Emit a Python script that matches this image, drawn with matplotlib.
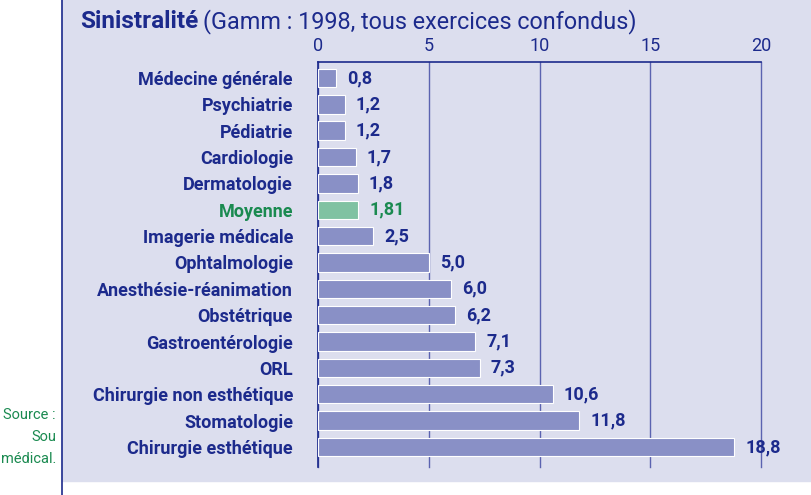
import matplotlib
matplotlib.use("Agg")
from matplotlib import pyplot as plt
from matplotlib.patches import Rectangle
from matplotlib.lines import Line2D
import numpy as np

# donnees
categories = ["Médecine générale", "Psychiatrie", "Pédiatrie", "Cardiologie",
              "Dermatologie", "Moyenne", "Imagerie médicale", "Ophtalmologie",
              "Anesthésie-réanimation", "Obstétrique", "Gastroentérologie", "ORL",
              "Chirurgie non esthétique", "Stomatologie", "Chirurgie esthétique"]
values = [0.8, 1.2, 1.2, 1.7, 1.8, 1.81, 2.5, 5.0, 6.0, 6.2, 7.1, 7.3, 10.6, 11.8, 18.8]
value_labels = ["0,8", "1,2", "1,2", "1,7", "1,8", "1,81", "2,5", "5,0", "6,0",
                "6,2", "7,1", "7,3", "10,6", "11,8", "18,8"]
xticks = [0, 5, 10, 15, 20]

navy = "#1c2a8c"
green = "#1a8a50"
bar_col = "#8990c6"
bar_green = "#80c2a2"
bg = "#dcdeee"
grid_col = "#5b63b0"

plt.rcParams['font.family'] = ['Roboto', 'DejaVu Sans']

W, H = 812, 495
fig = plt.figure(figsize=(W / 100, H / 100), dpi=100)

# fond lavande
fig.patches.append(Rectangle((62 / W, 1 - 481 / H), 1 - 62 / W, 481 / H,
                             transform=fig.transFigure, color=bg, zorder=-5))
fig.lines.append(Line2D([62 / W, 62 / W], [0, 1], transform=fig.transFigure,
                        color=navy, lw=1.2))

ax = fig.add_axes([318 / W, 1 - 467 / H, (761 - 318) / W, (467 - 62) / H])
ax.set_zorder(3)
ax.set_facecolor("none")

y = np.arange(len(categories))
colors = [bar_green if c == "Moyenne" else bar_col for c in categories]
ax.barh(y, values, height=0.7, color=colors, edgecolor="white", linewidth=0.8, zorder=3)

for i, (v, lab) in enumerate(zip(values, value_labels)):
    c = green if categories[i] == "Moyenne" else navy
    ax.text(v + 0.5, i, lab, va="center", ha="left", fontsize=13,
            fontweight="bold", color=c, zorder=4)

ax.set_xlim(0, 20)
ax.set_ylim(14.76, -0.607)
ax.set_xticks(xticks)
ax.xaxis.tick_top()
ax.tick_params(axis="x", length=0, pad=5, labelsize=13, labelcolor=navy)
ax.grid(axis="x", color=grid_col, lw=1.0, zorder=5)
for gl in ax.get_xgridlines():
    gl.set_clip_on(False)

ax.set_yticks(y)
ax.set_yticklabels(categories, fontsize=13, fontweight="bold")
ax.tick_params(axis="y", length=0, pad=18)
for t, c in zip(ax.get_yticklabels(), categories):
    t.set_color(green if c == "Moyenne" else navy)

for s in ["right", "bottom"]:
    ax.spines[s].set_visible(False)
ax.spines["left"].set_color(navy)
ax.spines["top"].set_color(navy)
ax.spines["left"].set_linewidth(1.2)
ax.spines["top"].set_linewidth(1.2)

# titre
t1 = fig.text(80 / W, 1 - 28 / H, "Sinistralité", fontsize=17.5, fontweight="bold",
              color=navy, va="baseline")
fig.canvas.draw()
bb = t1.get_window_extent()
fig.text(bb.x1 / W + 5 / W, 1 - 28 / H, "(Gamm : 1998, tous exercices confondus)",
         fontsize=16.8, color=navy, va="baseline")

# source
for txt, yy in [("Source :", 415), ("Sou", 437), ("médical.", 459)]:
    fig.text(56 / W, 1 - yy / H, txt, ha="right", va="center", fontsize=10.5, color=green)

fig.savefig("out.png", dpi=100)
